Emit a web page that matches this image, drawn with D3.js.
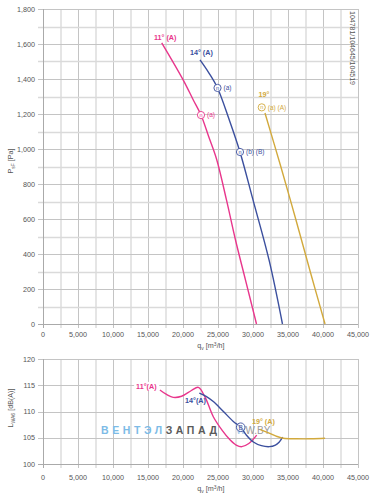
<!DOCTYPE html>
<html>
<head>
<meta charset="utf-8">
<script src="https://cdn.jsdelivr.net/npm/d3@7"></script>
<style>
  body { margin: 0; background: #fff; }
  svg { display: block; font-family: "Liberation Sans", Arial, sans-serif; }
</style>
</head>
<body>
<svg id="chart" width="388" height="495"></svg>
<script>
// pressure curves (q_v in m3/h, p in Pa)
const pink_p = [[16960,1607],[20040,1394],[21470,1280],[22570,1194],[23640,1074],[24790,943],[26210,709],[27500,480],[28930,251],[30500,0]];
const blue_p = [[22430,1509],[23710,1434],[24930,1349],[26570,1171],[28140,983],[30000,709],[32290,366],[34210,0]];
const yellow_p = [[31710,1206],[33970,900],[36100,600],[38170,300],[40290,0]];

// sound curves (q_v in m3/h, L in dB(A))
const pink_s = [[16700,114.1],[17700,113.2],[18600,112.7],[19800,112.9],[21200,114.0],[22200,114.6],[23200,112.6],[24330,109.0],[25600,106.4],[26710,104.6],[27600,103.6],[28400,103.3],[29400,103.9],[30530,105.5]];
const blue_s = [[22330,113.5],[23300,112.9],[24330,111.9],[25700,110.1],[27190,108.1],[28240,107.0],[29000,105.6],[30050,104.2],[31200,103.5],[32330,103.3],[33200,103.6],[33760,104.2],[34240,105.1]];
const yellow_s = [[31000,106.6],[32300,105.9],[33300,105.3],[34330,104.9],[36240,104.8],[38300,104.8],[40300,104.9]];

const xTicks = [0,5000,10000,15000,20000,25000,30000,35000,40000,45000];
const pTicks = [0,200,400,600,800,1000,1200,1400,1600,1800];
const sTicks = [100,105,110,115,120];

const PINK = '#e8368c', BLUE = '#3b4f9e', YELLOW = '#d2a93c';
const TXT = '#555';

const svg = d3.select('#chart');
const fmt = d3.format(',');

const x = d3.scaleLinear().domain([0,45000]).range([43,358]);
const yP = d3.scaleLinear().domain([0,1800]).range([324,9]);
const yS = d3.scaleLinear().domain([100,120]).range([464,359]);

function drawFrame(y, yTicks, gridStep, top, bottom, xLabelY, yDomain){
	let g = svg.append('g');
	// vertical grid every 2500
	let xs = d3.range(0, 45001, 2500);
	g.selectAll('.vg').data(xs).enter().append('line')
		.attr('x1', d => x(d) + 0.5).attr('x2', d => x(d) + 0.5)
		.attr('y1', top).attr('y2', bottom + 4)
		.attr('stroke', d => d % 5000 == 0 ? '#c4c4c4' : '#dadada')
		.attr('stroke-width', d => d % 5000 == 0 ? 1 : 1.4);
	let ys = d3.range(yDomain[0], yDomain[1] + 0.001, gridStep);
	g.selectAll('.hg').data(ys).enter().append('line')
		.attr('x1', 38).attr('x2', 358)
		.attr('y1', d => Math.round(y(d)) + 0.5).attr('y2', d => Math.round(y(d)) + 0.5)
		.attr('stroke', d => yTicks.includes(d) ? '#c4c4c4' : '#dadada')
		.attr('stroke-width', d => yTicks.includes(d) ? 1 : 1.4);
	g.append('line').attr('x1', 43.5).attr('x2', 43.5).attr('y1', top).attr('y2', bottom + 4).attr('stroke', '#aaa');
	g.append('line').attr('x1', 38).attr('x2', 358).attr('y1', bottom + 0.5).attr('y2', bottom + 0.5).attr('stroke', '#aaa');

	g.selectAll('.yt').data(yTicks).enter().append('text')
		.attr('x', 35).attr('y', d => y(d) + 2.5)
		.attr('text-anchor', 'end').attr('font-size', 7.2).attr('fill', TXT)
		.text(d => fmt(d));
	g.selectAll('.xt').data(xTicks).enter().append('text')
		.attr('x', d => x(d)).attr('y', xLabelY)
		.attr('text-anchor', 'middle').attr('font-size', 7.2).attr('fill', TXT)
		.text(d => fmt(d));
	let t = g.append('text').attr('x', 211).attr('y', xLabelY + 11)
		.attr('text-anchor', 'middle').attr('font-size', 7.2).attr('fill', TXT);
	t.append('tspan').text('q');
	t.append('tspan').attr('font-size', 5).attr('dy', 1.5).text('v');
	t.append('tspan').attr('dy', -1.5).text(' [m');
	t.append('tspan').attr('font-size', 5).attr('dy', -2.5).text('3');
	t.append('tspan').attr('dy', 2.5).text('/h]');
}

drawFrame(yP, pTicks, 100, 9, 324, 337, [0,1800]);
drawFrame(yS, sTicks, 5, 359, 464, 480, [100,120]);

// y axis titles
function yTitle(cx, cy, main, sub, rest){
	let t = svg.append('text').attr('transform', `translate(${cx},${cy}) rotate(-90)`)
		.attr('text-anchor', 'middle').attr('font-size', 7.2).attr('fill', TXT);
	t.append('tspan').text(main);
	t.append('tspan').attr('font-size', 5).attr('dy', 1.5).text(sub);
	t.append('tspan').attr('dy', -1.5).text(rest);
}
yTitle(13, 161, 'P', 'sF', ' [Pa]');
yTitle(13, 408, 'L', 'WA6', ' [dB(A)]');

svg.append('text').attr('transform', 'translate(350,48) rotate(90)')
	.attr('text-anchor', 'middle').attr('font-size', 7).attr('fill', TXT)
	.text('104781/104645/104519');

// watermark
let wm = svg.append('text').attr('x', 101).attr('y', 434).attr('font-size', 10.5)
	.attr('font-weight', 'bold').attr('letter-spacing', 3.6);
wm.append('tspan').attr('fill', '#7dbbe6').text('ВЕНТЭЛ');
wm.append('tspan').attr('fill', '#5a5a5a').text('ЗАПАД');
let wm2 = svg.append('text').attr('x', 236).attr('y', 434).attr('font-size', 10);
wm2.append('tspan').attr('fill', '#a8cdea').text('W');
wm2.append('tspan').attr('fill', '#9a9a9a').text('W.BY');

// curves
const lineP = d3.line().x(d => x(d[0])).y(d => yP(d[1])).curve(d3.curveCatmullRom);
const lineS = d3.line().x(d => x(d[0])).y(d => yS(d[1])).curve(d3.curveCatmullRom);
[[pink_p, PINK],[blue_p, BLUE],[yellow_p, YELLOW]].forEach(([d, c]) => {
	svg.append('path').attr('d', lineP(d)).attr('fill', 'none').attr('stroke', c).attr('stroke-width', 1.4);
});
[[pink_s, PINK],[blue_s, BLUE],[yellow_s, YELLOW]].forEach(([d, c]) => {
	svg.append('path').attr('d', lineS(d)).attr('fill', 'none').attr('stroke', c).attr('stroke-width', 1.4);
});

// labels
function label(px, py, txt, c, bg){
	let t = svg.append('text').attr('x', px).attr('y', py).attr('font-size', 7.2)
		.attr('font-weight', 'bold').attr('fill', c).text(txt);
	if(bg){
		let b = t.node().getBBox();
		svg.insert('rect', () => t.node()).attr('x', b.x - 2).attr('y', b.y).attr('width', b.width + 4)
			.attr('height', b.height).attr('fill', '#fff');
	}
}
function marker(px, py, ch, c, txt){
	svg.append('circle').attr('cx', px).attr('cy', py).attr('r', 3.6)
		.attr('fill', '#fff').attr('stroke', c).attr('stroke-width', 0.9);
	svg.append('text').attr('x', px).attr('y', py + 2).attr('text-anchor', 'middle')
		.attr('font-size', 5.5).attr('fill', c).text(ch);
	if(txt){
		svg.append('text').attr('x', px + 6).attr('y', py + 2.3).attr('font-size', 6.5)
			.attr('fill', c).text(txt);
	}
}

label(x(15850), yP(1623), '11° (A)', PINK);
label(x(21000), yP(1540), '14° (A)', BLUE);
label(x(30800), yP(1297), '19°', YELLOW);
marker(x(22570), yP(1194), 'n', PINK, '(a)');
marker(x(24930), yP(1349), 'n', BLUE, '(a)');
marker(x(28140), yP(983), 'n', BLUE, '(b) (B)');
marker(x(31250), yP(1238), 'n', YELLOW, '(a) (A)');

label(x(13300), yS(114.3), '11°(A)', PINK, true);
label(x(20300), yS(111.6), '14°(A)', BLUE);
label(x(29850), yS(107.7), '19° (A)', YELLOW);
svg.append('circle').attr('cx', x(28240)).attr('cy', yS(107.0)).attr('r', 4.3)
	.attr('fill', 'rgba(255,255,255,0.6)').attr('stroke', BLUE).attr('stroke-width', 0.9);
svg.append('text').attr('x', x(28240)).attr('y', yS(107.0) + 2.5).attr('text-anchor', 'middle')
	.attr('font-size', 6.5).attr('fill', BLUE).text('B');
</script>
</body>
</html>
